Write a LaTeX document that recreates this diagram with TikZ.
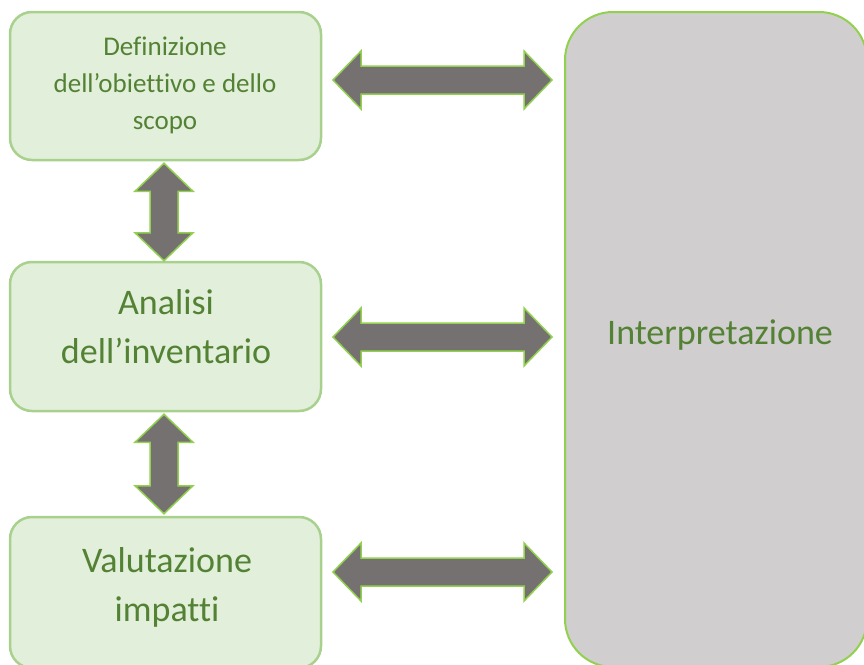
\documentclass[tikz,border=0pt]{standalone}
\usepackage{fontspec}
\setmainfont{Carlito}[Ligatures=NoCommon]
\usetikzlibrary{calc}

\definecolor{boxfill}{HTML}{E2EFDA}
\definecolor{boxline}{HTML}{A9D18E}
\definecolor{greenline}{HTML}{92D050}
\definecolor{textgreen}{HTML}{548235}
\definecolor{arrowgrey}{HTML}{767171}
\definecolor{interpfill}{HTML}{D0CECE}

\tikzset{
  stage/.style={draw=boxline,fill=boxfill,line width=2.5pt,rounded corners=22pt,
    minimum width=311pt,inner sep=0pt},
  interpbox/.style={draw=greenline,fill=interpfill,line width=2pt,rounded corners=48pt,inner sep=0pt},
  stagetext/.style={text=textgreen,align=center,inner sep=0pt,font=\fontsize{36}{49}\selectfont},
  blockarr/.style={draw=greenline,fill=arrowgrey,line width=1.5pt,line join=miter},
}
\def\arrhl{28pt}\def\arrhw{29pt}\def\arrsw{14pt}
% double block arrow between two named points
\newcommand\blockarrow[2]{%
  \filldraw[blockarr] (#1) -- ($(#1)!\arrhl!(#2)!\arrhw!90:(#2)$) -- ($(#1)!\arrhl!(#2)!\arrsw!90:(#2)$)
    -- ($(#2)!\arrhl!(#1)!\arrsw!-90:(#1)$) -- ($(#2)!\arrhl!(#1)!\arrhw!-90:(#1)$) -- (#2)
    -- ($(#2)!\arrhl!(#1)!\arrhw!90:(#1)$) -- ($(#2)!\arrhl!(#1)!\arrsw!90:(#1)$)
    -- ($(#1)!\arrhl!(#2)!\arrsw!-90:(#2)$) -- ($(#1)!\arrhl!(#2)!\arrhw!-90:(#2)$) -- cycle;}

\begin{document}
\begin{tikzpicture}[x=1pt,y=-1pt]
  \useasboundingbox (0,0) rectangle (864,664);
  \clip (0,0) rectangle (864,664);
  \node[stage,minimum height=148pt] (def) at (165.5,86) {};
  \node[stage,minimum height=149pt] (inv) at (165.5,336.5) {};
  \node[stage,minimum height=151pt] (imp) at (165.5,592.5) {};
  \node[interpbox,minimum width=302pt,minimum height=655pt] (int) at (716,339.5) {};

  \node[stagetext,font=\fontsize{27}{37}\selectfont] (deftext) at (165,85)
     {Definizione\\dell’obiettivo e dello\\scopo};
  \node[stagetext] (invtext) at (166,327) {Analisi\\dell’inventario};
  \node[stagetext] (imptext) at (167,587) {Valutazione\\impatti};
  \node[stagetext] (inttext) at (720,335) {Interpretazione};

  % arrows
  \coordinate (a1l) at (333,80);  \coordinate (a1r) at (552,80);
  \coordinate (a2l) at (333,337); \coordinate (a2r) at (552,337);
  \coordinate (a3l) at (333,572); \coordinate (a3r) at (552,572);
  \coordinate (v1t) at ($(def.south)+(-1.5,2)$); \coordinate (v1b) at ($(inv.north)+(-1.5,0)$);
  \coordinate (v2t) at ($(inv.south)+(-1.5,2)$); \coordinate (v2b) at ($(imp.north)+(-1.5,-2)$);
  \blockarrow{a1l}{a1r}
  \blockarrow{a2l}{a2r}
  \blockarrow{a3l}{a3r}
  \blockarrow{v1t}{v1b}
  \blockarrow{v2t}{v2b}
\end{tikzpicture}
\end{document}
